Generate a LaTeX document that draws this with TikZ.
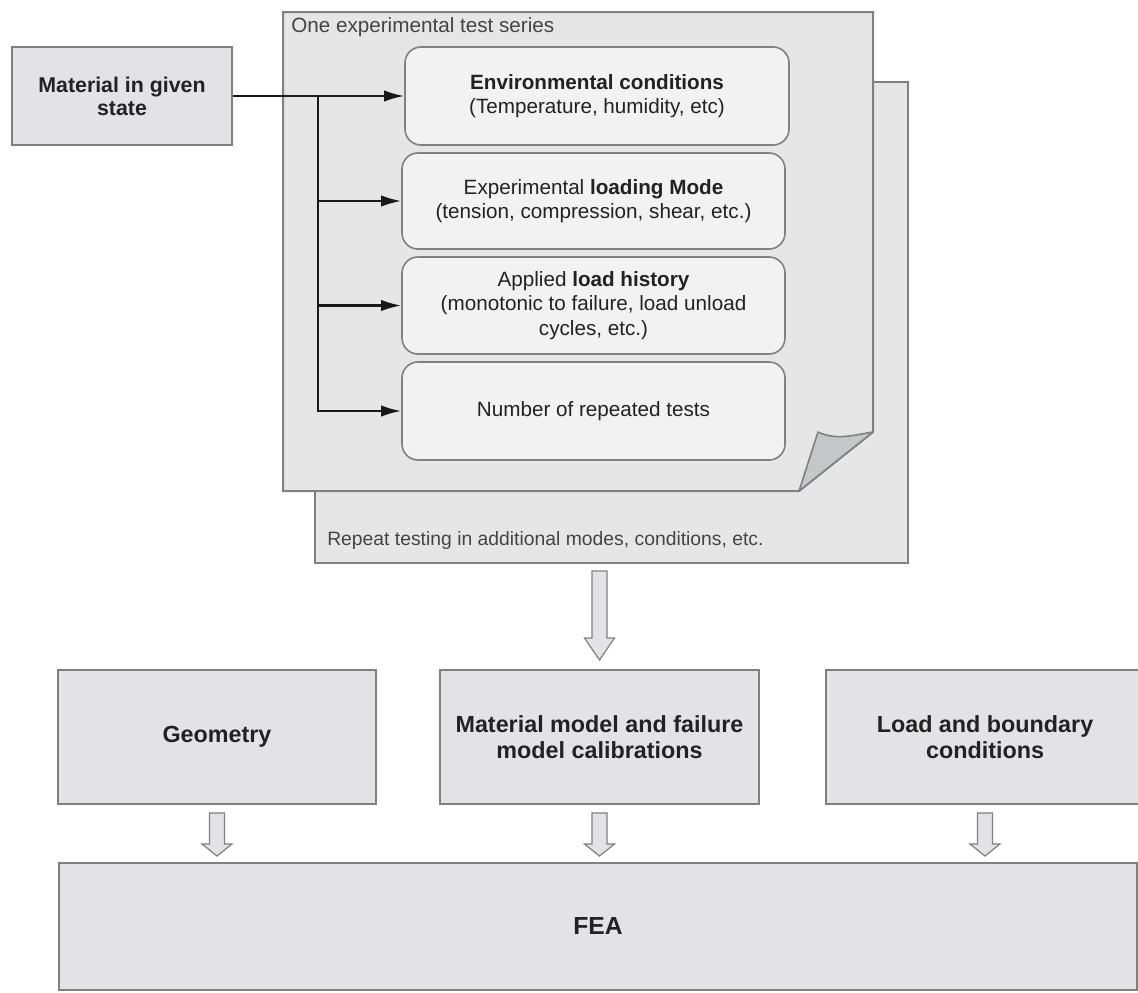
\documentclass[tikz,border=0pt]{standalone}
\usepackage{fontspec}
\setmainfont{Liberation Sans}
\usetikzlibrary{calc,arrows.meta}
\definecolor{boxfill}{HTML}{E3E3E5}
\definecolor{pagefill}{HTML}{E6E6E6}
\definecolor{innerfill}{HTML}{F2F2F2}
\definecolor{edge}{HTML}{808080}
\definecolor{foldfill}{HTML}{C6C7CB}
\definecolor{txt}{HTML}{222222}
\definecolor{lbl}{HTML}{444444}
\tikzset{
  graybox/.style={draw=edge, line width=1.5pt, fill=boxfill, text=txt, align=center, inner sep=0pt},
  innerbox/.style={draw=edge, line width=1.2pt, fill=innerfill, rounded corners=12pt, text=txt, align=center,
    inner sep=0pt, minimum width={383*0.75pt}, minimum height={97*0.75pt}, font=\fontsize{15.5}{18.4}\selectfont},
  bigbold/.style={font=\fontsize{17.5}{19.8}\selectfont\bfseries},
  conn/.style={line width=1.6pt, draw=black!90},
  arr/.style={conn, -{Latex[length=15pt,width=8.5pt]}},
  hollow/.style={draw=edge, line width=0.9pt, fill=boxfill, line join=miter},
}
% hollow block arrow from #1 (top centre) to #2 (tip); #3 head length
\newcommand\hollowarrow[3]{%
  \draw[hollow] let \p1=#1, \p2=#2 in
    (\x1-5.6pt,\y1) -- (\x1+5.6pt,\y1) -- (\x1+5.6pt,\y2+#3) -- (\x1+11.25pt,\y2+#3)
    -- (\x1,\y2) -- (\x1-11.25pt,\y2+#3) -- (\x1-5.6pt,\y2+#3) -- cycle;}
\begin{document}
\begin{tikzpicture}[x=0.75pt,y=-0.75pt]
\useasboundingbox (0,0) rectangle (1138,992);

% material
\node[graybox, minimum width={220*0.75pt}, minimum height={98*0.75pt}, font=\fontsize{16}{17.3}\selectfont\bfseries]
  (mat) at (122,96) {Material in given\\state};

% back page (repeat testing)
\node[draw=edge, line width=1.5pt, fill=pagefill, minimum width={593*0.75pt}, minimum height={481*0.75pt}, inner sep=0pt]
  (back) at (611.5,322.5) {};
\node[anchor=west, text=lbl, font=\fontsize{14.5}{17}\selectfont, inner sep=0pt] (backlbl) at (327,540)
  {Repeat testing in additional modes, conditions, etc.};

% front page with folded corner
\draw[draw=edge, line width=1.5pt, fill=pagefill, line join=miter]
  (283,12) -- (873,12) -- (873,432) -- (799,491) -- (283,491) -- cycle;
\draw[draw=edge, line width=1.2pt, fill=foldfill, line join=round]
  (873,432) .. controls (850,436) and (835,440) .. (818,432) -- (799,491) -- cycle;
\coordinate (front) at (283,12);
\node[anchor=west, text=lbl, font=\fontsize{15.5}{18}\selectfont, inner sep=0pt] (frontlbl) at (291,27)
  {One experimental test series};

% inner boxes
\node[innerbox, minimum width={384*0.75pt}, minimum height={98*0.75pt}] (b1) at (597,96)
  {\textbf{Environmental conditions}\\(Temperature, humidity, etc)};
\node[innerbox, minimum height={96*0.75pt}] (b2) at (593.5,201)
  {Experimental \textbf{loading Mode}\\(tension, compression, shear, etc.)};
\node[innerbox] (b3) at (593.5,305.5)
  {Applied \textbf{load history}\\(monotonic to failure, load unload\\cycles, etc.)};
\node[innerbox, minimum height={98*0.75pt}] (b4) at (593.5,411)
  {Number of repeated tests};

% connectors
\coordinate (j) at (318,96);
\draw[arr] (mat.east) -- (b1.west);
\draw[arr] (j) |- (b4.west);
\draw[arr] (j |- b2.west) -- (b2.west);
\draw[arr] (j |- b3.west) -- (b3.west);

% bottom boxes
\node[graybox, bigbold, minimum width={318*0.75pt}, minimum height={134*0.75pt}] (geo) at (217,737) {Geometry};
\node[graybox, bigbold, minimum width={319*0.75pt}, minimum height={134*0.75pt}] (mm) at (599.5,737)
  {Material model and failure\\model calibrations};
\node[graybox, bigbold, minimum width={318*0.75pt}, minimum height={134*0.75pt}] (load) at (985,737)
  {Load and boundary\\conditions};
\node[graybox, minimum width={1078*0.75pt}, minimum height={127*0.75pt}, font=\fontsize{18.5}{21}\selectfont\bfseries]
  (fea) at (598,926.5) {FEA};

% hollow arrows
\hollowarrow{($(back.south -| mm.north)+(0,7)$)}{($(mm.north)+(0,-9)$)}{16.5pt}
\hollowarrow{($(geo.south)+(0,8)$)}{($(fea.north)+(0,-6)$)}{9pt}
\hollowarrow{($(mm.south)+(0,8)$)}{($(fea.north -| mm.south)+(0,-6)$)}{9pt}
\hollowarrow{($(load.south)+(0,8)$)}{($(fea.north -| load.south)+(0,-6)$)}{9pt}
\end{tikzpicture}
\end{document}
